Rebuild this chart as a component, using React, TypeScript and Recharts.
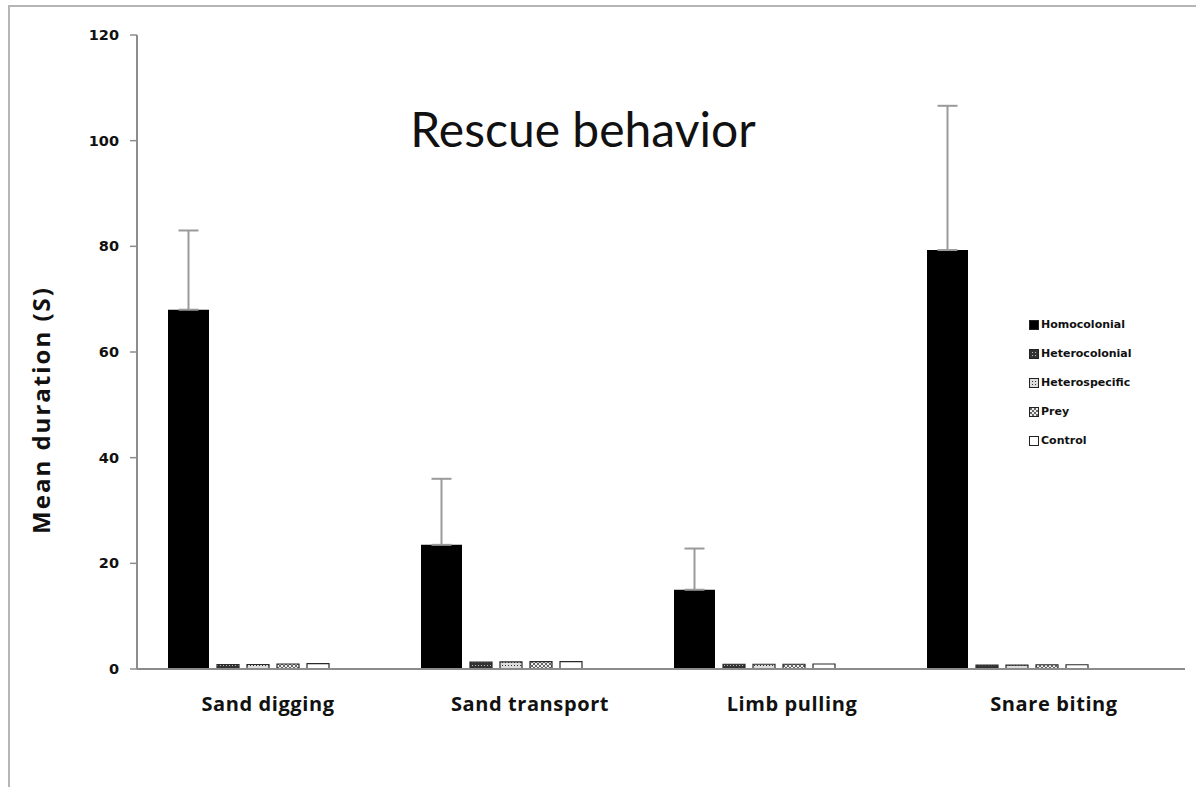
import React from "react";
import { BarChart, Bar, XAxis, YAxis, ErrorBar } from "recharts";

const categories = ["Sand digging", "Sand transport", "Limb pulling", "Snare biting"];
const homocolonial = [68, 23.5, 15, 79.3];
const homocolonialErr = [15, 12.5, 7.8, 27.3];
const heterocolonial = [0.85, 1.3, 0.9, 0.75];
const heterospecific = [0.85, 1.35, 0.9, 0.75];
const prey = [0.95, 1.4, 0.9, 0.8];
const control = [1.0, 1.4, 0.95, 0.8];
const yTicks = [0, 20, 40, 60, 80, 100, 120];

const data = categories.map((name, i) => ({
  name,
  homocolonial: homocolonial[i],
  homoErr: [0, homocolonialErr[i]],
  heterocolonial: heterocolonial[i],
  heterospecific: heterospecific[i],
  prey: prey[i],
  control: control[i],
}));

const series = [
  { key: "homocolonial", label: "Homocolonial", fill: "#000", size: 41 },
  { key: "heterocolonial", label: "Heterocolonial", fill: "url(#patHetcol)", size: 22 },
  { key: "heterospecific", label: "Heterospecific", fill: "url(#patHetspec)", size: 22 },
  { key: "prey", label: "Prey", fill: "url(#patPrey)", size: 22 },
  { key: "control", label: "Control", fill: "#fff", size: 22 },
];

const Patterns = () => (
  <defs>
    <pattern id="patHetcol" width="3" height="3" patternUnits="userSpaceOnUse">
      <rect width="3" height="3" fill="#333" />
      <rect width="1" height="1" fill="#bbb" />
    </pattern>
    <pattern id="patHetspec" width="3" height="3" patternUnits="userSpaceOnUse">
      <rect width="3" height="3" fill="#ddd" />
      <rect width="1" height="1" fill="#333" />
    </pattern>
    <pattern id="patPrey" width="4" height="4" patternUnits="userSpaceOnUse">
      <rect width="4" height="4" fill="#eee" />
      <path d="M0 0L4 4M4 0L0 4" stroke="#444" strokeWidth={0.8} />
    </pattern>
  </defs>
);

const CategoryTick = (props: any) => {
  const { x, y, payload, index } = props;
  return (
    <text
      x={x + 19.5 + index * 9}
      y={y}
      dy="0.71em"
      textAnchor="middle"
      fontFamily="Open Sans"
      fontWeight={700}
      fontSize={20}
      fill="#111"
      style={{ letterSpacing: "0.6px" }}
    >
      {payload.value}
    </text>
  );
};

const LegendBox = () => (
  <div
    style={{
      position: "absolute",
      left: 1019,
      top: 303,
      fontFamily: "DejaVu Sans",
      fontWeight: 700,
      fontSize: 11,
      color: "#111",
    }}
  >
    <svg width={0} height={0} style={{ position: "absolute" }}>
      <Patterns />
    </svg>
    {series.map((s) => (
      <div key={s.key} style={{ display: "flex", alignItems: "center", height: 29 }}>
        <svg width={10} height={10} style={{ marginRight: 2 }}>
          <rect x={0.5} y={0.5} width={9} height={9} fill={s.fill} stroke="#222" strokeWidth={1} />
        </svg>
        <span>{s.label}</span>
      </div>
    ))}
  </div>
);

export default function App() {
  return (
    <div
      style={{
        position: "absolute",
        top: 5,
        left: 8,
        width: 1190,
        height: 784,
        borderTop: "2px solid #b5b5b5",
        borderLeft: "2px solid #b5b5b5",
        boxSizing: "border-box",
        background: "#fff",
      }}
    >
      <div
        style={{
          position: "absolute",
          left: 0,
          width: 1146,
          top: 93,
          textAlign: "center",
          fontFamily: "Lato",
          fontSize: 48,
          color: "#111",
        }}
      >
        Rescue behavior
      </div>
      <div style={{ position: "absolute", left: 0, top: 1 }}>
        <BarChart
          width={1186}
          height={770}
          data={data}
          margin={{ top: 27, right: 11, bottom: 69, left: 0 }}
          barGap={8}
        >
          <Patterns />
          <XAxis
            dataKey="name"
            padding={{ left: -15, right: 51 }}
            axisLine={{ stroke: "#8c8c8c", strokeWidth: 2 }}
            tickLine={false}
            tickMargin={22}
            tick={<CategoryTick />}
            interval={0}
            height={40}
          />
          <YAxis
            width={127}
            domain={[0, 120]}
            ticks={yTicks}
            axisLine={{ stroke: "#8c8c8c", strokeWidth: 2 }}
            tickLine={{ stroke: "#8c8c8c", strokeWidth: 1.5 }}
            tickSize={7}
            tickMargin={11}
            tick={{ fontFamily: "DejaVu Sans", fontWeight: 700, fontSize: 14.5, fill: "#111" }}
            label={{
              value: "Mean duration  (S)",
              angle: -90,
              position: "insideLeft",
              dx: 26,
              dy: 58,
              style: {
                fontFamily: "Open Sans",
                fontWeight: 700,
                fontSize: 24,
                letterSpacing: "2px",
                fill: "#111",
                textAnchor: "middle",
              },
            }}
          />
          {series.map((s) => (
            <Bar
              key={s.key}
              dataKey={s.key}
              name={s.label}
              fill={s.fill}
              stroke={s.key === "homocolonial" ? "none" : "#2a2a2a"}
              strokeWidth={1.2}
              barSize={s.size}
              isAnimationActive={false}
            >
              {s.key === "homocolonial" && (
                <ErrorBar dataKey="homoErr" width={10} stroke="#9a9a9a" strokeWidth={2} direction="y" />
              )}
            </Bar>
          ))}
        </BarChart>
      </div>
      <LegendBox />
    </div>
  );
}
